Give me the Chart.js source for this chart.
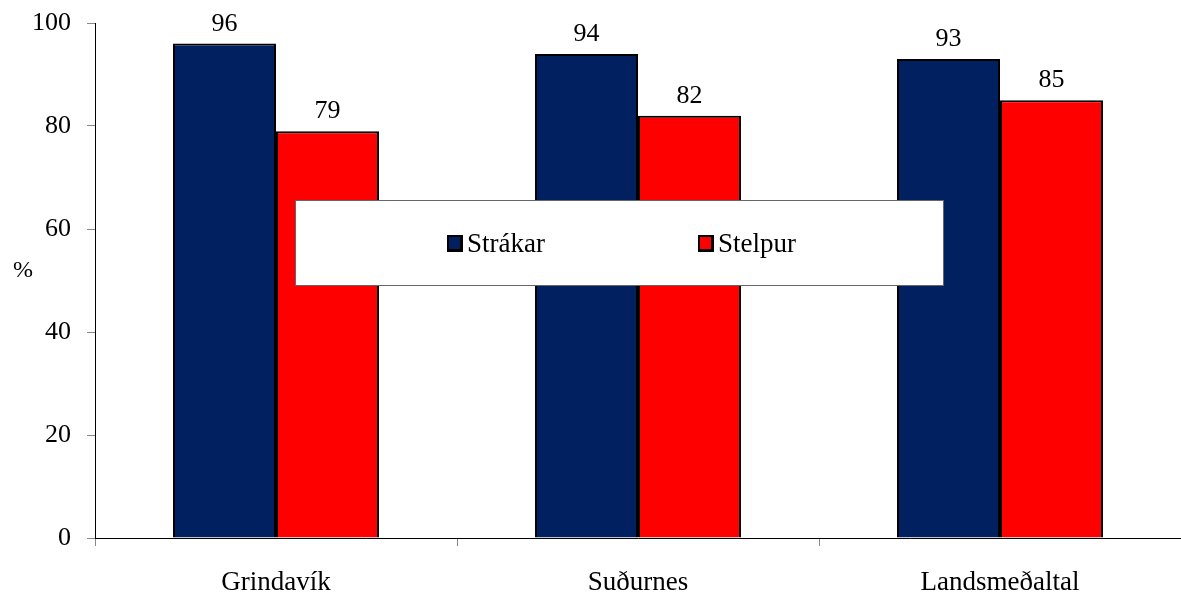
<!DOCTYPE html>
<html>
<head>
<meta charset="utf-8">
<script src="https://cdn.jsdelivr.net/npm/chart.js@4/dist/chart.umd.min.js"></script>
<style>
html,body{margin:0;padding:0;background:#fff;}
#wrap{width:1181px;height:594px;position:relative;}
</style>
</head>
<body>
<div id="wrap"><canvas id="c" width="1181" height="594"></canvas></div>
<script>
const categories = ['Grindavík', 'Suðurnes', 'Landsmeðaltal'];
const strakar = [96, 94, 93];
const stelpur = [79, 82, 85];
const seriesNames = ['Strákar', 'Stelpur'];
const yTicks = [0, 20, 40, 60, 80, 100];
const yTitle = '%';

const FONT = '"Liberation Serif", "Times New Roman", serif';
const colors = ['#002060', '#FF0000'];

const valueLabels = {
  id: 'valueLabels',
  afterDatasetsDraw(chart) {
    const ctx = chart.ctx;
    ctx.save();
    ctx.font = '26px ' + FONT;
    ctx.fillStyle = '#000';
    ctx.textAlign = 'center';
    ctx.textBaseline = 'alphabetic';
    chart.data.datasets.forEach((ds, i) => {
      chart.getDatasetMeta(i).data.forEach((bar, j) => {
        ctx.fillText(String(ds.data[j]), bar.x, bar.y - 13);
      });
    });
    ctx.restore();
  }
};

const boxLegend = {
  id: 'boxLegend',
  afterDraw(chart) {
    const ctx = chart.ctx;
    ctx.save();
    const x0 = 295, y0 = 200, w = 648, h = 85;
    ctx.fillStyle = '#fff';
    ctx.fillRect(x0, y0, w, h);
    ctx.strokeStyle = '#666';
    ctx.lineWidth = 1;
    ctx.strokeRect(x0 + 0.5, y0 + 0.5, w, h);
    ctx.font = '27px ' + FONT;
    ctx.textBaseline = 'alphabetic';
    ctx.textAlign = 'left';
    const items = [{x: 447}, {x: 698}];
    chart.data.datasets.forEach((ds, i) => {
      const bx = items[i].x, by = 235;
      ctx.fillStyle = '#000';
      ctx.fillRect(bx, by, 16, 17);
      ctx.fillStyle = ds.backgroundColor;
      ctx.fillRect(bx + 2, by + 2, 11, 12);
      ctx.fillStyle = '#000';
      ctx.fillText(ds.label, bx + 20, 252);
    });
    ctx.textAlign = 'center';
    ctx.textBaseline = 'middle';
    ctx.font = '24px ' + FONT;
    ctx.fillText(yTitle, 23, 271);
    ctx.restore();
  }
};

new Chart(document.getElementById('c'), {
  type: 'bar',
  data: {
    labels: categories,
    datasets: [
      { label: seriesNames[0], data: strakar, backgroundColor: colors[0], borderColor: '#000', borderWidth: 2 },
      { label: seriesNames[1], data: stelpur, backgroundColor: colors[1], borderColor: '#000', borderWidth: 2 }
    ]
  },
  options: {
    responsive: false,
    animation: false,
    devicePixelRatio: 1,
    layout: { padding: { top: 23, right: 0, left: 0, bottom: 0 } },
    plugins: { legend: { display: false }, tooltip: { enabled: false } },
    datasets: { bar: { categoryPercentage: 0.569, barPercentage: 1.0 } },
    scales: {
      x: {
        grid: { offset: true, drawOnChartArea: false, drawTicks: true, tickLength: 8, color: '#888' },
        border: { color: '#000', width: 1 },
        ticks: { color: '#000', font: { family: FONT, size: 27 }, padding: 21, maxRotation: 0 },
        afterFit(s) { s.height = 56; s.paddingLeft = 0; s.paddingRight = 0; }
      },
      y: {
        min: 0, max: 100,
        afterBuildTicks(s) { s.ticks = yTicks.map(v => ({ value: v })); },
        grid: { drawOnChartArea: false, drawTicks: true, tickLength: 8, color: '#888' },
        border: { color: '#000', width: 1 },
        ticks: { color: '#000', font: { family: FONT, size: 26 }, padding: 16 },
        afterFit(s) { s.width = 95; s.paddingTop = 0; s.paddingBottom = 0; }
      }
    }
  },
  plugins: [valueLabels, boxLegend]
});
</script>
</body>
</html>
